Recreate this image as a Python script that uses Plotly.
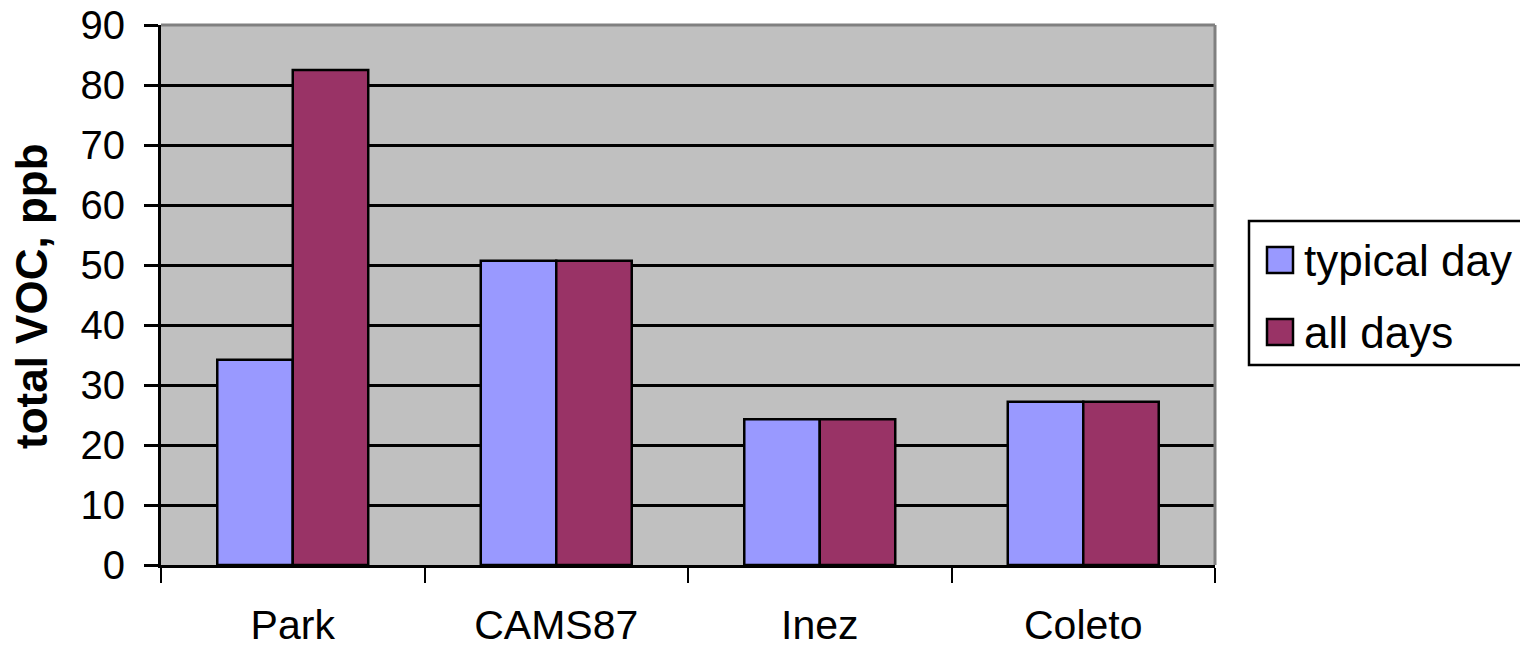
import plotly.graph_objects as go

categories = ["Park", "CAMS87", "Inez", "Coleto"]
typical_day = [34.2, 50.7, 24.3, 27.2]
all_days = [82.5, 50.7, 24.3, 27.2]
series_names = ["typical day", "all days"]
series_colors = ["#9999FF", "#993366"]
y_ticks = [0, 10, 20, 30, 40, 50, 60, 70, 80, 90]

W, H = 1520, 651
L, R, T, B = 161, 1215, 25, 565
FONT = "Liberation Sans, Arial, sans-serif"


def px_x(p):
    return (p - L) / (R - L)


def px_y(p):
    return (B - p) / (B - T)


fig = go.Figure()
for name, vals, col in zip(series_names, [typical_day, all_days], series_colors):
    fig.add_trace(go.Bar(
        x=categories, y=vals, name=name,
        marker=dict(color=col, line=dict(color="black", width=2.5)),
        showlegend=False,
    ))

shapes = [
    dict(type="line", xref="paper", yref="paper", x0=0, x1=1, y0=1, y1=1,
         line=dict(color="#808080", width=3)),
    dict(type="line", xref="paper", yref="paper", x0=1, x1=1, y0=0, y1=1,
         line=dict(color="#808080", width=3)),
    dict(type="rect", xref="paper", yref="paper",
         x0=px_x(1249), x1=px_x(1522), y0=px_y(365), y1=px_y(221),
         line=dict(color="black", width=2.5), fillcolor="white", layer="above"),
]
annotations = [
    dict(text="<b>total VOC, ppb</b>", textangle=-90, xref="paper", yref="paper",
         x=px_x(32), y=px_y(296), xanchor="center", yanchor="middle", showarrow=False,
         font=dict(family=FONT, size=44, color="black")),
]
leg_y = [260, 332]
for name, col, cy in zip(series_names, series_colors, leg_y):
    shapes.append(dict(type="rect", xref="paper", yref="paper",
                       x0=px_x(1267), x1=px_x(1293), y0=px_y(cy + 13), y1=px_y(cy - 13),
                       line=dict(color="black", width=2.5), fillcolor=col, layer="above"))
    annotations.append(dict(text=name, xref="paper", yref="paper",
                            x=px_x(1302), y=px_y(cy), xanchor="left", yanchor="middle",
                            showarrow=False, font=dict(family=FONT, size=44, color="black")))

fig.update_layout(
    width=W, height=H,
    margin=dict(l=L, r=W - R, t=T, b=H - B, autoexpand=False),
    paper_bgcolor="white", plot_bgcolor="#C0C0C0",
    barmode="group", bargap=0.427, bargroupgap=0,
    font=dict(family=FONT, color="black"),
    shapes=shapes, annotations=annotations,
)
fig.update_xaxes(
    type="category", tickson="boundaries", ticks="outside", ticklen=15, tickwidth=2,
    tickcolor="black", showline=True, linecolor="black", linewidth=3,
    showgrid=False, tickfont=dict(family=FONT, size=41, color="black"),
    ticklabelstandoff=22, ticklabeloverflow="allow",
)
fig.update_yaxes(
    range=[0, 90], tickvals=y_ticks, ticks="outside", ticklen=14, tickwidth=2.5,
    tickcolor="black", showline=True, linecolor="black", linewidth=3,
    showgrid=True, gridcolor="black", gridwidth=2.5, zeroline=False,
    tickfont=dict(family=FONT, size=40, color="black"), ticklabelstandoff=11,
    ticklabeloverflow="allow",
)

fig.write_html(
    "out.html",
    config={"displayModeBar": False},
    post_script="document.body.style.margin='0px';document.body.style.overflow='hidden';",
)
